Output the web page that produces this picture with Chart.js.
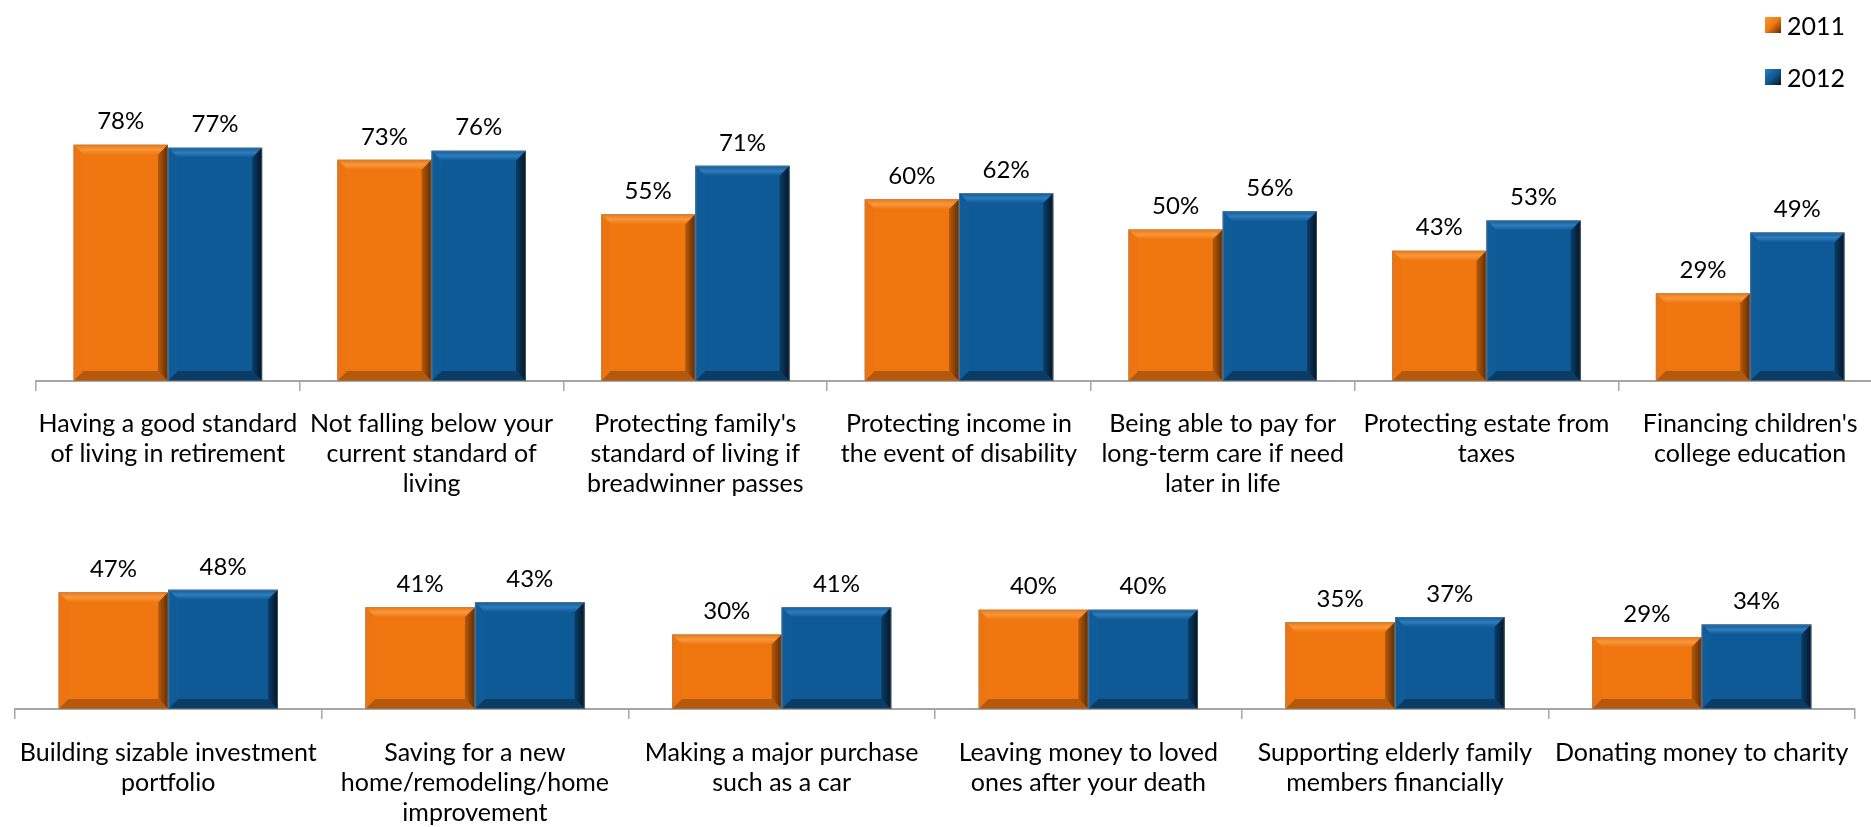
<!DOCTYPE html>
<html>
<head>
<meta charset="utf-8">
<script src="https://cdn.jsdelivr.net/npm/chart.js@4.4.1/dist/chart.umd.min.js"></script>
<style>
  body { margin: 0; width: 1871px; height: 827px; overflow: hidden; background: #fff; position: relative; font-family: Lato, sans-serif; }
  canvas { position: absolute; }
  #grafTopo { left: 0; top: 0; }
  #grafBaixo { left: 0; top: 520px; }
  #legenda { position: absolute; left: 1765px; top: 10px; }
  .item { display: flex; align-items: center; height: 30px; margin-bottom: 22px; font-size: 25px; color: #000; }
  .quad { width: 16px; height: 16px; margin-right: 6px; }
</style>
</head>
<body>
<canvas id="grafTopo" width="1890" height="520"></canvas>
<canvas id="grafBaixo" width="1871" height="320"></canvas>
<div id="legenda"></div>

<script>
// Dados do gráfico
const anos = ["2011", "2012"];

const categoriasTopo = [
    ["Having a good standard", "of living in retirement"],
    ["Not falling below your", "current standard of", "living"],
    ["Protecting family's", "standard of living if", "breadwinner passes"],
    ["Protecting income in", "the event of disability"],
    ["Being able to pay for", "long-term care if need", "later in life"],
    ["Protecting estate from", "taxes"],
    ["Financing children's", "college education"]
];
const topo2011 = [78, 73, 55, 60, 50, 43, 29];
const topo2012 = [77, 76, 71, 62, 56, 53, 49];

const categoriasBaixo = [
    ["Building sizable investment", "portfolio"],
    ["Saving for a new", "home/remodeling/home", "improvement"],
    ["Making a major purchase", "such as a car"],
    ["Leaving money to loved", "ones after your death"],
    ["Supporting elderly family", "members financially"],
    ["Donating money to charity"]
];
const baixo2011 = [47, 41, 30, 40, 35, 29];
const baixo2012 = [48, 43, 41, 40, 37, 34];

// Tons de cada série: base, chanfro de cima, esquerda, direita, baixo
const tons = [
    { base: '#F0760F', topo: '#F7983A', esq: '#EE7412', dir1: '#B85A0A', dir2: '#5E2C04', baixo: '#B4580C' },
    { base: '#0E5A97', topo: '#2F7CBD', esq: '#0F5C99', dir1: '#0A3D68', dir2: '#041526', baixo: '#0A3C66' }
];

function poligono(ctx, pts, cor) {
    ctx.beginPath();
    ctx.moveTo(pts[0][0], pts[0][1]);
    for (let k = 1; k < pts.length; k++) ctx.lineTo(pts[k][0], pts[k][1]);
    ctx.closePath();
    ctx.fillStyle = cor;
    ctx.fill();
}

// Efeito de chanfro nas barras + rótulos de valor
const chanfroPlugin = {
    id: 'chanfro',
    afterDatasetsDraw(chart) {
        const ctx = chart.ctx;
        ctx.save();
        chart.data.datasets.forEach((ds, i) => {
            const meta = chart.getDatasetMeta(i);
            const t = tons[i];
            meta.data.forEach((bar, j) => {
                const p = bar.getProps(['x', 'y', 'base', 'width'], true);
                const l = p.x - p.width / 2, r = p.x + p.width / 2;
                const cima = p.y, fundo = p.base;
                const e = Math.min(10, (fundo - cima) / 2);

                const gTopo = ctx.createLinearGradient(0, cima, 0, cima + e);
                gTopo.addColorStop(0, t.base);
                gTopo.addColorStop(0.5, t.topo);
                gTopo.addColorStop(1, t.base);
                poligono(ctx, [[l, cima], [r, cima], [r - e, cima + e], [l + e, cima + e]], gTopo);
                poligono(ctx, [[l, cima], [l + e, cima + e], [l + e, fundo - e], [l, fundo]], t.esq);
                poligono(ctx, [[l, fundo], [l + e, fundo - e], [r - e, fundo - e], [r, fundo]], t.baixo);

                const grad = ctx.createLinearGradient(r - e, 0, r, 0);
                grad.addColorStop(0, t.dir1);
                grad.addColorStop(1, t.dir2);
                poligono(ctx, [[r, cima], [r, fundo], [r - e, fundo - e], [r - e, cima + e]], grad);

                // contorno cinza bem fraco
                ctx.strokeStyle = 'rgba(140,140,140,0.45)';
                ctx.lineWidth = 1;
                ctx.strokeRect(l + 0.5, cima + 0.5, p.width - 1, fundo - cima - 1);

                // rótulo com o valor
                ctx.fillStyle = '#000';
                ctx.font = '24px Lato';
                ctx.textAlign = 'center';
                ctx.textBaseline = 'middle';
                ctx.fillText(ds.data[j] + '%', p.x, cima - 23);
            });
        });
        ctx.restore();
    }
};

function montarGrafico(id, categorias, v2011, v2012, opts) {
    return new Chart(document.getElementById(id), {
        type: 'bar',
        data: {
            labels: categorias,
            datasets: [
                { label: anos[0], data: v2011, backgroundColor: tons[0].base },
                { label: anos[1], data: v2012, backgroundColor: tons[1].base }
            ]
        },
        options: {
            responsive: false,
            animation: false,
            devicePixelRatio: 1,
            layout: { padding: opts.padding },
            datasets: { bar: { categoryPercentage: 0.715, barPercentage: 1 } },
            plugins: { legend: { display: false }, tooltip: { enabled: false } },
            scales: {
                x: {
                    grid: { display: true, drawOnChartArea: false, drawTicks: true, tickLength: 10, color: '#A6A6A6', lineWidth: 1.5, offset: true },
                    border: { display: true, color: '#A6A6A6', width: 2 },
                    ticks: {
                        autoSkip: false, maxRotation: 0, minRotation: 0,
                        padding: opts.tickPadding,
                        color: '#000',
                        font: { family: 'Lato', size: 25, lineHeight: 1.2 }
                    },
                    afterFit: s => { s.height = opts.alturaEixo; }
                },
                y: { display: false, min: 0, max: opts.max }
            }
        },
        plugins: [chanfroPlugin]
    });
}

montarGrafico('grafTopo', categoriasTopo, topo2011, topo2012,
    { padding: { top: 78, left: 36, right: 8, bottom: 0 }, alturaEixo: 139, tickPadding: 18, max: 100 });

montarGrafico('grafBaixo', categoriasBaixo, baixo2011, baixo2012,
    { padding: { top: 40, left: 10, right: 16, bottom: 0 }, alturaEixo: 131, tickPadding: 19, max: 60 });

// Legenda montada em HTML
const legenda = document.getElementById('legenda');
anos.forEach((ano, i) => {
    const item = document.createElement('div');
    item.className = 'item';
    const q = document.createElement('span');
    q.className = 'quad';
    q.style.background = `linear-gradient(135deg, ${tons[i].topo}, ${tons[i].base} 50%, ${tons[i].dir2})`;
    const txt = document.createElement('span');
    txt.textContent = ano;
    item.appendChild(q);
    item.appendChild(txt);
    legenda.appendChild(item);
});
</script>
</body>
</html>
